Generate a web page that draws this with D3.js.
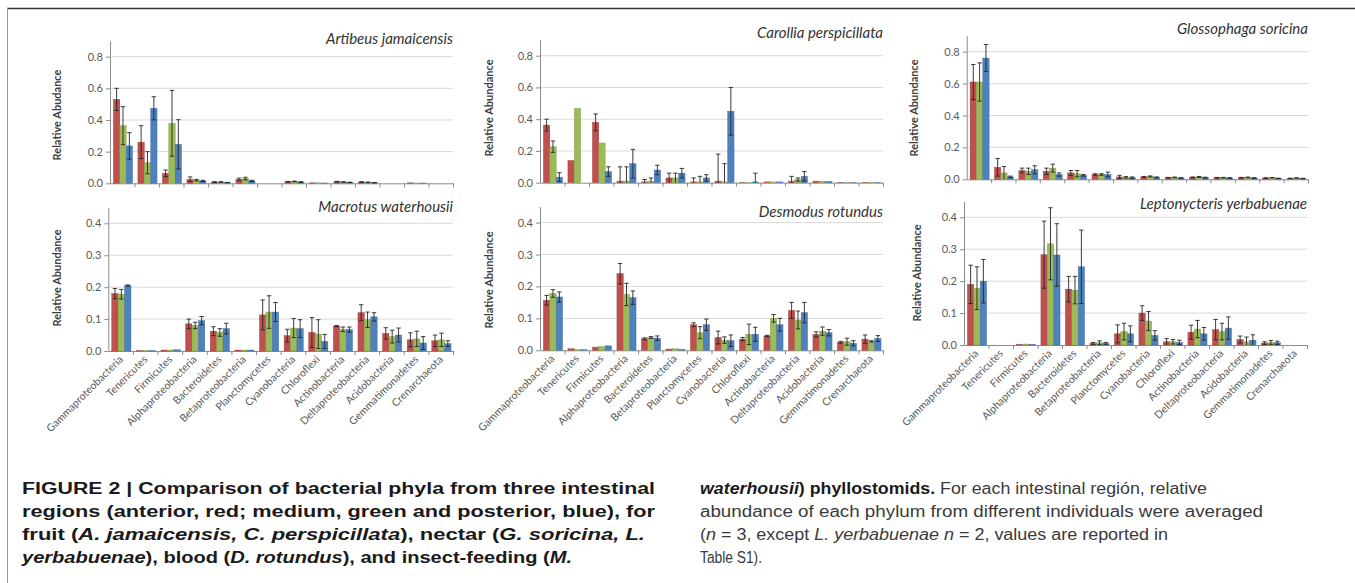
<!DOCTYPE html>
<html>
<head>
<meta charset="utf-8">
<script src="https://cdn.jsdelivr.net/npm/d3@7"></script>
<style>
body { margin: 0; background: #fff; }
svg { display: block; font-family: Lato, "Open Sans", sans-serif; }
</style>
</head>
<body>
<svg id="fig" width="1355" height="583"></svg>
<script>
// categories and series
const phyla = ["Gammaproteobacteria", "Tenericutes", "Firmicutes", "Alphaproteobacteria",
  "Bacteroidetes", "Betaproteobacteria", "Planctomycetes", "Cyanobacteria", "Chloroflexi",
  "Actinobacteria", "Deltaproteobacteria", "Acidobacteria", "Gemmatimonadetes", "Crenarchaeota"];
const regions = ["anterior", "medium", "posterior"];
const regionColors = ["#C0504D", "#9BBB59", "#4F81BD"];
const regionEdges = ["#9c3b38", "#7e9a44", "#3c679c"];
const topTicks = [0, 0.2, 0.4, 0.6, 0.8];
const bottomTicks = [0, 0.1, 0.2, 0.3, 0.4];

// mean relative abundance, one row per region (anterior, medium, posterior)
const artibeusMean = [
  [0.53, 0.26, 0.063, 0.025, 0.008, 0.025, 0, 0.010, 0.003, 0.010, 0.008, 0, 0.003, 0],
  [0.364, 0.13, 0.379, 0.020, 0.008, 0.030, 0, 0.012, 0.003, 0.008, 0.006, 0, 0.002, 0],
  [0.236, 0.474, 0.246, 0.015, 0.005, 0.015, 0, 0.008, 0.002, 0.006, 0.004, 0, 0.002, 0]
];
const artibeusErr = [
  [0.07, 0.104, 0.021, 0.015, 0.002, 0.008, 0, 0.002, 0, 0.002, 0.002, 0, 0, 0],
  [0.12, 0.07, 0.208, 0.005, 0.002, 0.008, 0, 0.002, 0, 0.002, 0.002, 0, 0, 0],
  [0.084, 0.073, 0.156, 0.004, 0.001, 0.004, 0, 0.002, 0, 0.001, 0.001, 0, 0, 0]
];
const carolliaMean = [
  [0.363, 0.14, 0.38, 0.01, 0.005, 0.03, 0.005, 0.01, 0.003, 0.005, 0.01, 0.01, 0.003, 0.003],
  [0.227, 0.468, 0.25, 0.01, 0.01, 0.03, 0.005, 0.005, 0.003, 0.005, 0.02, 0.01, 0.003, 0.003],
  [0.035, 0, 0.07, 0.12, 0.08, 0.06, 0.03, 0.45, 0.005, 0.005, 0.04, 0.008, 0.003, 0.003]
];
const carolliaErr = [
  [0.037, 0, 0.053, 0.09, 0.015, 0.03, 0.025, 0.17, 0, 0, 0.03, 0, 0, 0],
  [0.036, 0, 0, 0.09, 0.02, 0.03, 0.035, 0.115, 0, 0, 0.01, 0, 0, 0],
  [0.028, 0, 0.03, 0.09, 0.03, 0.03, 0.02, 0.15, 0.055, 0, 0.03, 0, 0, 0]
];
const glossophagaMean = [
  [0.61, 0.075, 0.055, 0.05, 0.04, 0.03, 0.015, 0.015, 0.010, 0.012, 0.010, 0.010, 0.008, 0.006],
  [0.61, 0.04, 0.05, 0.07, 0.035, 0.03, 0.012, 0.018, 0.012, 0.015, 0.010, 0.012, 0.010, 0.008],
  [0.76, 0.015, 0.06, 0.03, 0.025, 0.03, 0.010, 0.012, 0.008, 0.010, 0.008, 0.008, 0.006, 0.005]
];
const glossophagaErr = [
  [0.11, 0.055, 0.015, 0.02, 0.015, 0.005, 0.01, 0.003, 0.002, 0.003, 0.002, 0.002, 0.001, 0.001],
  [0.12, 0.04, 0.02, 0.025, 0.02, 0.005, 0.005, 0.003, 0.002, 0.003, 0.002, 0.002, 0.001, 0.001],
  [0.085, 0.005, 0.025, 0.01, 0.005, 0.015, 0.005, 0.003, 0.002, 0.003, 0.002, 0.002, 0.001, 0.001]
];
const macrotusMean = [
  [0.18, 0.001, 0.003, 0.085, 0.062, 0.003, 0.113, 0.048, 0.058, 0.078, 0.12, 0.055, 0.035, 0.032],
  [0.178, 0.001, 0.003, 0.08, 0.058, 0.003, 0.122, 0.072, 0.053, 0.068, 0.098, 0.045, 0.038, 0.035],
  [0.205, 0.001, 0.004, 0.095, 0.07, 0.003, 0.122, 0.07, 0.03, 0.067, 0.107, 0.05, 0.025, 0.023]
];
const macrotusErr = [
  [0.016, 0, 0, 0.015, 0.014, 0, 0.047, 0.02, 0.047, 0.002, 0.025, 0.018, 0.022, 0.018],
  [0.015, 0, 0, 0.01, 0.012, 0, 0.051, 0.03, 0.045, 0.007, 0.024, 0.02, 0.024, 0.021],
  [0.002, 0, 0, 0.013, 0.017, 0, 0.03, 0.028, 0.022, 0.008, 0.013, 0.022, 0.02, 0.009]
];
const desmodusMean = [
  [0.157, 0.005, 0.010, 0.24, 0.036, 0.004, 0.08, 0.04, 0.035, 0.045, 0.125, 0.05, 0.025, 0.035],
  [0.178, 0.002, 0.012, 0.175, 0.04, 0.005, 0.055, 0.032, 0.05, 0.1, 0.095, 0.06, 0.027, 0.028],
  [0.167, 0.002, 0.014, 0.165, 0.038, 0.003, 0.08, 0.03, 0.05, 0.08, 0.118, 0.055, 0.022, 0.037]
];
const desmodusErr = [
  [0.015, 0, 0, 0.032, 0.003, 0, 0.006, 0.02, 0.005, 0.002, 0.025, 0.008, 0.003, 0.013],
  [0.012, 0, 0, 0.035, 0.003, 0, 0.019, 0.01, 0.032, 0.012, 0.028, 0.013, 0.011, 0.002],
  [0.016, 0, 0, 0.021, 0.007, 0, 0.018, 0.018, 0.022, 0.02, 0.032, 0.01, 0.008, 0.009]
];
const leptonycterisMean = [
  [0.19, 0, 0.002, 0.283, 0.175, 0.005, 0.035, 0.10, 0.010, 0.04, 0.048, 0.017, 0.006, 0],
  [0.178, 0, 0.003, 0.317, 0.172, 0.007, 0.042, 0.075, 0.010, 0.05, 0.042, 0.010, 0.008, 0],
  [0.20, 0, 0.002, 0.282, 0.245, 0.005, 0.035, 0.03, 0.008, 0.035, 0.053, 0.015, 0.007, 0]
];
const leptonycterisErr = [
  [0.06, 0, 0, 0.105, 0.04, 0.003, 0.028, 0.023, 0.01, 0.022, 0.032, 0.011, 0.004, 0],
  [0.067, 0, 0, 0.113, 0.043, 0.006, 0.026, 0.03, 0.007, 0.027, 0.026, 0.015, 0.006, 0],
  [0.068, 0, 0, 0.098, 0.115, 0.003, 0.025, 0.015, 0.007, 0.02, 0.035, 0.017, 0.005, 0]
];

// layout of the six panels
const panels = [
  { title: "Artibeus jamaicensis", yLabel: "Relative Abudance", mean: artibeusMean, err: artibeusErr,
    ticks: topTicks, max: 0.9, left: 110, right: 453, base: 183.3, unit: 158.3, titleY: 44, labelX: 58, labelY: 115 },
  { title: "Carollia perspicillata", yLabel: "Relative Abundance", mean: carolliaMean, err: carolliaErr,
    ticks: topTicks, max: 0.9, left: 540, right: 883, base: 182.7, unit: 158.75, titleY: 38, labelX: 490, labelY: 108 },
  { title: "Glossophaga soricina", yLabel: "Relative Abundance", mean: glossophagaMean, err: glossophagaErr,
    ticks: topTicks, max: 0.9, left: 966.7, right: 1308, base: 179.3, unit: 159.5, titleY: 34, labelX: 915, labelY: 108 },
  { title: "Macrotus waterhousii", yLabel: "Relative Abundance", mean: macrotusMean, err: macrotusErr,
    ticks: bottomTicks, max: 0.45, left: 108.3, right: 453, base: 351, unit: 319.2, titleY: 212, labelX: 58, labelY: 278, xLabels: true },
  { title: "Desmodus rotundus", yLabel: "Relative Abundance", mean: desmodusMean, err: desmodusErr,
    ticks: bottomTicks, max: 0.45, left: 540, right: 883, base: 350.3, unit: 319.2, titleY: 217, labelX: 490, labelY: 280, xLabels: true },
  { title: "Leptonycteris yerbabuenae", yLabel: "Relative Abundance", mean: leptonycterisMean, err: leptonycterisErr,
    ticks: bottomTicks, max: 0.45, left: 964, right: 1307, base: 345, unit: 319.2, titleY: 209, labelX: 918, labelY: 273, xLabels: true }
];

const svg = d3.select("#fig");

// frame
svg.append("line").attr("x1", 7).attr("x2", 1355).attr("y1", 8.5).attr("y2", 8.5)
  .attr("stroke", "#333").attr("stroke-width", 1.5);
svg.append("line").attr("x1", 7.5).attr("x2", 7.5).attr("y1", 8).attr("y2", 583)
  .attr("stroke", "#9a9a9a").attr("stroke-width", 1);

panels.forEach(p => {
  const g = svg.append("g");
  const x0 = d3.scaleBand().domain(phyla).range([p.left, p.right]);
  const x1 = d3.scaleBand().domain(regions)
    .range([x0.bandwidth() * 0.14, x0.bandwidth() * 0.92]);
  const y = d3.scaleLinear().domain([0, p.max]).range([p.base, p.base - p.max * p.unit]);
  const slots = d3.scaleLinear().domain([0, phyla.length]).range([p.left, p.right]);

  // gridlines
  g.selectAll(".grid").data(p.ticks.filter(t => t > 0)).enter().append("line")
    .attr("x1", p.left).attr("x2", p.right)
    .attr("y1", d => y(d)).attr("y2", d => y(d))
    .attr("stroke", "#d9d9d9").attr("stroke-width", 1);

  // y axis
  const ya = g.append("g").attr("transform", `translate(${p.left},0)`)
    .call(d3.axisLeft(y).tickValues(p.ticks).tickFormat(d3.format(".1f")).tickSize(4).tickSizeOuter(0));
  ya.select(".domain").attr("stroke", "#8c8c8c");
  ya.selectAll(".tick line").attr("stroke", "#8c8c8c");
  ya.selectAll(".tick text").attr("fill", "#595959").attr("font-size", 11)
    .attr("font-family", "Lato, sans-serif").attr("x", -7);

  // x axis, ticks between categories
  const xa = g.append("g").attr("transform", `translate(0,${p.base})`)
    .call(d3.axisBottom(slots).tickValues(d3.range(1, phyla.length + 1)).tickFormat("").tickSize(4).tickSizeOuter(0));
  xa.select(".domain").attr("stroke", "#8c8c8c");
  xa.selectAll(".tick line").attr("stroke", "#8c8c8c");

  // bars
  regions.forEach((r, ri) => {
    g.append("g").selectAll("rect").data(p.mean[ri]).enter().append("rect")
      .attr("x", (d, i) => x0(phyla[i]) + x1(r))
      .attr("width", x1.bandwidth())
      .attr("y", d => y(d))
      .attr("height", d => p.base - y(d))
      .attr("fill", regionColors[ri])
      .attr("stroke", regionEdges[ri]).attr("stroke-width", 0.4);
  });

  // error bars
  regions.forEach((r, ri) => {
    const eg = g.append("g").attr("stroke", "#262626").attr("stroke-width", 0.9);
    p.mean[ri].forEach((m, i) => {
      const e = p.err[ri][i];
      if (!e) return;
      const cx = x0(phyla[i]) + x1(r) + x1.bandwidth() / 2;
      const hi = y(m + e), lo = y(Math.max(0, m - e));
      eg.append("line").attr("x1", cx).attr("x2", cx).attr("y1", hi).attr("y2", lo);
      eg.append("line").attr("x1", cx - 2.2).attr("x2", cx + 2.2).attr("y1", hi).attr("y2", hi);
      if (m - e > 0) eg.append("line").attr("x1", cx - 2.2).attr("x2", cx + 2.2).attr("y1", lo).attr("y2", lo);
    });
  });

  // title
  g.append("text").text(p.title)
    .attr("x", p.right).attr("y", p.titleY)
    .attr("text-anchor", "end").attr("font-style", "italic")
    .attr("font-size", 15).attr("fill", "#333");

  // y label
  g.append("text").text(p.yLabel)
    .attr("transform", `translate(${p.labelX},${p.labelY}) rotate(-90)`)
    .attr("text-anchor", "middle").attr("dominant-baseline", "middle")
    .attr("font-weight", "bold").attr("font-size", 11).attr("fill", "#404040");

  // category labels
  if (p.xLabels) {
    g.selectAll(".xl").data(phyla).enter().append("text").text(d => d)
      .attr("transform", d => `translate(${x0(d) + x0.bandwidth() / 2 + 3},${p.base + 9}) rotate(-45)`)
      .attr("text-anchor", "end").attr("font-size", 10.5).attr("fill", "#595959");
  }
});

// caption, each line squeezed to the width it has in the figure
const capFont = "'Liberation Sans', Arial, sans-serif";
const captionLines = [
  { x: 22, y: 494, w: 633, parts: [["FIGURE 2 | Comparison of bacterial phyla from three intestinal", "b"]] },
  { x: 22, y: 517, w: 633, parts: [["regions (anterior, red; medium, green and posterior, blue), for", "b"]] },
  { x: 22, y: 540, w: 623, parts: [["fruit (", "b"], ["A. jamaicensis, C. perspicillata", "bi"], ["), nectar (", "b"], ["G. soricina, L.", "bi"]] },
  { x: 22, y: 563, w: 550, parts: [["yerbabuenae", "bi"], ["), blood (", "b"], ["D. rotundus", "bi"], ["), and insect-feeding (", "b"], ["M.", "bi"]] },
  { x: 700, y: 494, w: 507, parts: [["waterhousii", "bi"], [") phyllostomids.", "b"], [" For each intestinal región, relative", "n"]] },
  { x: 700, y: 517, w: 563, parts: [["abundance of each phylum from different individuals were averaged", "n"]] },
  { x: 700, y: 540, w: 468, parts: [["(", "n"], ["n", "i"], [" = 3, except ", "n"], ["L. yerbabuenae", "i"], [" ", "n"], ["n", "i"], [" = 2, values are reported in", "n"]] },
  { x: 700, y: 563, w: 62, parts: [["Table S1).", "n"]] }
];
captionLines.forEach(l => {
  const t = svg.append("text").attr("x", l.x).attr("y", l.y)
    .attr("font-family", capFont).attr("font-size", 16)
    .attr("textLength", l.w).attr("lengthAdjust", "spacingAndGlyphs")
    .attr("xml:space", "preserve");
  l.parts.forEach(([s, st]) => {
    t.append("tspan").text(s)
      .attr("font-weight", st.includes("b") ? "bold" : "normal")
      .attr("font-style", st.includes("i") ? "italic" : "normal")
      .attr("fill", st.includes("b") ? "#1a1a1a" : "#3a3a3a");
  });
});
</script>
</body>
</html>
